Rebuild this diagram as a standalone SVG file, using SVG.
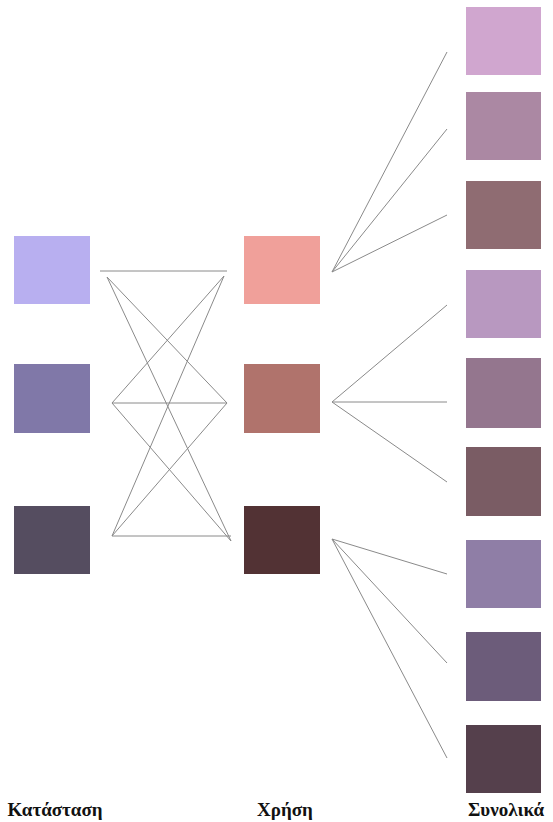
<svg xmlns="http://www.w3.org/2000/svg" width="553" height="822" viewBox="0 0 553 822">
<style>
.ln{stroke:#8a8a8a;stroke-width:1;fill:none}
.lbl{font-family:"Liberation Serif","Times New Roman",serif;font-weight:bold;font-size:19px;fill:#111;text-anchor:middle}
</style>
<rect width="553" height="822" fill="#ffffff"/>
<g id="connectors">
<line class="ln" x1="100" y1="271" x2="227" y2="271"/>
<line class="ln" x1="107" y1="277" x2="227" y2="403"/>
<line class="ln" x1="107" y1="277" x2="231" y2="541"/>
<line class="ln" x1="224" y1="276" x2="112" y2="403"/>
<line class="ln" x1="224" y1="276" x2="112" y2="536"/>
<line class="ln" x1="112" y1="403" x2="227" y2="403"/>
<line class="ln" x1="112" y1="403" x2="231" y2="541"/>
<line class="ln" x1="112" y1="536" x2="227" y2="403"/>
<line class="ln" x1="112" y1="536" x2="231" y2="536"/>
<line class="ln" x1="332" y1="272" x2="447" y2="52"/>
<line class="ln" x1="332" y1="272" x2="447" y2="129"/>
<line class="ln" x1="332" y1="272" x2="447" y2="215"/>
<line class="ln" x1="332" y1="402" x2="447" y2="305"/>
<line class="ln" x1="332" y1="402" x2="447" y2="402"/>
<line class="ln" x1="332" y1="402" x2="447" y2="482"/>
<line class="ln" x1="332" y1="539" x2="447" y2="574"/>
<line class="ln" x1="332" y1="539" x2="447" y2="663"/>
<line class="ln" x1="332" y1="539" x2="447" y2="758"/>
</g>
<g id="state1"><rect x="14" y="236" width="76" height="68" fill="#b8aff0"/></g>
<g id="state2"><rect x="14" y="364" width="76" height="69" fill="#8078a8"/></g>
<g id="state3"><rect x="14" y="506" width="76" height="68" fill="#554d60"/></g>
<g id="use1"><rect x="244" y="236" width="76" height="68" fill="#f0a09a"/></g>
<g id="use2"><rect x="244" y="364" width="76" height="69" fill="#b0736c"/></g>
<g id="use3"><rect x="244" y="506" width="76" height="68" fill="#523234"/></g>
<g id="total1"><rect x="466" y="7" width="75" height="68" fill="#d0a6cf"/></g>
<g id="total2"><rect x="466" y="92" width="75" height="68" fill="#ab88a3"/></g>
<g id="total3"><rect x="466" y="181" width="75" height="68" fill="#8f6c72"/></g>
<g id="total4"><rect x="466" y="270" width="75" height="68" fill="#b898c0"/></g>
<g id="total5"><rect x="466" y="358" width="75" height="70" fill="#94768e"/></g>
<g id="total6"><rect x="466" y="447" width="75" height="69" fill="#7a5c64"/></g>
<g id="total7"><rect x="466" y="540" width="75" height="68" fill="#8f7ea6"/></g>
<g id="total8"><rect x="466" y="632" width="75" height="69" fill="#6c5c7a"/></g>
<g id="total9"><rect x="466" y="725" width="75" height="68" fill="#55404c"/></g>
<g id="labels">
<text class="lbl" x="55" y="816">Κατάσταση</text>
<text class="lbl" x="285" y="816">Χρήση</text>
<text class="lbl" x="506" y="816">Συνολικά</text>
</g>
</svg>
